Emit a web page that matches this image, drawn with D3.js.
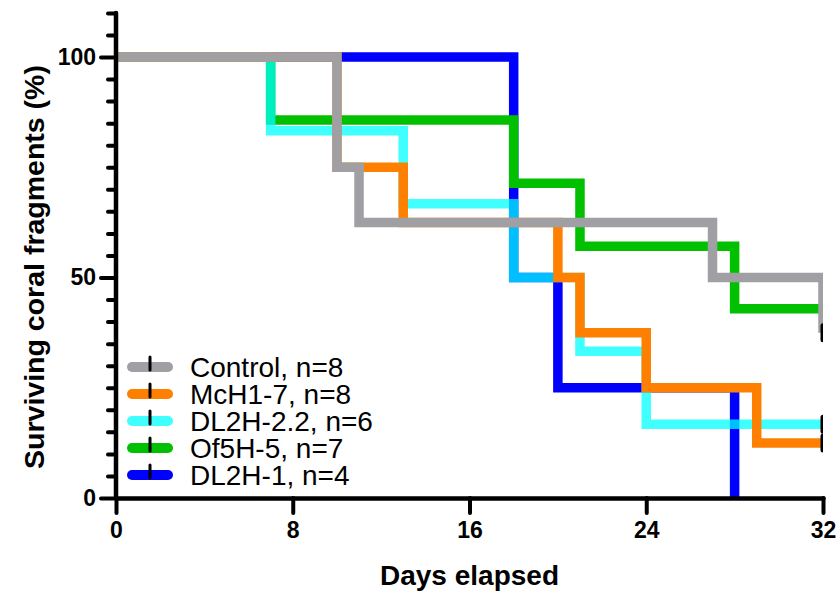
<!DOCTYPE html>
<html>
<head>
<meta charset="utf-8">
<script src="https://cdn.jsdelivr.net/npm/d3@7"></script>
<style>
  body { margin: 0; background: #fff; }
  text { font-family: "Liberation Sans", Arial, sans-serif; }
</style>
</head>
<body>
<div id="chart"></div>
<script>
// survival steps (day of drop, % surviving after it)
var controlDays = [0, 10, 11, 27, 32];
var controlSurv = [100, 75, 62.5, 50, 37.5];
var mchDays = [0, 10, 13, 20, 21, 24, 29];
var mchSurv = [100, 75, 62.5, 50, 37.5, 25, 12.5];
var dl22Days = [0, 7, 13, 18, 21, 24];
var dl22Surv = [100, 83.3, 66.7, 50, 33.3, 16.7];
var of5Days = [0, 7, 18, 21, 28];
var of5Surv = [100, 85.7, 71.4, 57.1, 42.9];
var dl1Days = [0, 18, 20, 28];
var dl1Surv = [100, 50, 25, 0];

var seriesNames = ["Control, n=8", "McH1-7, n=8", "DL2H-2.2, n=6", "Of5H-5, n=7", "DL2H-1, n=4"];
var seriesColors = ["#a0a0a4", "#ff8000", "#00ffff", "#00c000", "#0000ff"];

var xTicks = [0, 8, 16, 24, 32];
var yLabelTicks = [0, 50, 100];

var width = 840, height = 592;
var endDay = 32;

var svg = d3.select("#chart").append("svg")
    .attr("width", width)
    .attr("height", height);

var x = d3.scaleLinear().domain([0, 32]).range([116, 823]);
var y = d3.scaleLinear().domain([0, 100]).range([498, 57]);

var series = [
    {name: seriesNames[0], color: seriesColors[0], days: controlDays, surv: controlSurv, op: 1},
    {name: seriesNames[1], color: seriesColors[1], days: mchDays, surv: mchSurv, op: 1},
    {name: seriesNames[2], color: seriesColors[2], days: dl22Days, surv: dl22Surv, op: 0.75},
    {name: seriesNames[3], color: seriesColors[3], days: of5Days, surv: of5Surv, op: 1},
    {name: seriesNames[4], color: seriesColors[4], days: dl1Days, surv: dl1Surv, op: 1}
];

svg.append("clipPath").attr("id", "plotclip")
    .append("rect")
    .attr("x", x(0))
    .attr("y", 0)
    .attr("width", x(32) - x(0))
    .attr("height", y(0));

var line = d3.line()
    .x(function (d) { return x(d[0]); })
    .y(function (d) { return y(d[1]); })
    .curve(d3.curveStepAfter);

var plot = svg.append("g").attr("clip-path", "url(#plotclip)");

// bottom series first so grey ends up on top
var drawOrder = [4, 3, 2, 1, 0];
drawOrder.forEach(function (k) {
    var s = series[k];
    var pts = s.days.map(function (d, i) { return [d, s.surv[i]]; });
    var last = pts[pts.length - 1];
    if (last[1] > 0 && last[0] < endDay) {
        pts.push([endDay, last[1]]);
    }
    plot.append("path")
        .attr("d", line(pts))
        .attr("fill", "none")
        .attr("stroke", s.color)
        .attr("stroke-opacity", s.op)
        .attr("stroke-width", 9.5)
        .attr("stroke-linejoin", "miter");
    // censor tick at the end of the follow-up
    if (last[1] > 0) {
        plot.append("line")
            .attr("x1", x(endDay)).attr("x2", x(endDay))
            .attr("y1", y(last[1]) - 7).attr("y2", y(last[1]) + 7)
            .attr("stroke", "#000")
            .attr("stroke-width", 5)
            .attr("stroke-linecap", "round");
    }
});

// axes
var xAxis = svg.append("g")
    .attr("transform", "translate(0," + y(0) + ")")
    .call(d3.axisBottom(x).tickValues(xTicks).tickSize(15).tickSizeOuter(0).tickPadding(9));

var yAxis = svg.append("g")
    .attr("transform", "translate(" + x(0) + ",0)")
    .call(d3.axisLeft(y).tickValues(d3.range(0, 111, 5)).tickSize(15).tickSizeOuter(0).tickPadding(5)
        .tickFormat(function (d) { return yLabelTicks.indexOf(d) >= 0 ? d : ""; }));

yAxis.selectAll(".tick line")
    .attr("x2", function (d) { return yLabelTicks.indexOf(d) >= 0 ? -15 : -8; });

// extend y domain line up to 110
yAxis.select(".domain").attr("d", "M0," + y(110) + "V" + y(0));

[xAxis, yAxis].forEach(function (a) {
    a.select(".domain")
        .attr("stroke", "#000")
        .attr("stroke-width", 4.5)
        .attr("stroke-linecap", "round");
    a.selectAll(".tick line")
        .attr("stroke", "#000")
        .attr("stroke-width", 4)
        .attr("stroke-linecap", "round");
    a.selectAll(".tick text")
        .attr("fill", "#000")
        .style("font-size", "23px")
        .style("font-weight", "bold")
        .style("font-family", "'Liberation Sans', Arial, sans-serif");
});

// axis titles
svg.append("text")
    .attr("x", (x(0) + x(32)) / 2)
    .attr("y", 585)
    .attr("text-anchor", "middle")
    .style("font-size", "28px")
    .style("font-weight", "bold")
    .text("Days elapsed");

svg.append("text")
    .attr("transform", "translate(44," + 267 + ") rotate(-90)")
    .attr("text-anchor", "middle")
    .style("font-size", "28.5px")
    .style("font-weight", "bold")
    .text("Surviving coral fragments (%)");

// legend
var legend = svg.append("g");
series.forEach(function (s, i) {
    var cy = 367 + i * 27;
    legend.append("line")
        .attr("x1", 132).attr("x2", 168)
        .attr("y1", cy).attr("y2", cy)
        .attr("stroke", s.color)
        .attr("stroke-opacity", s.op)
        .attr("stroke-width", 10)
        .attr("stroke-linecap", "round");
    legend.append("line")
        .attr("x1", 150).attr("x2", 150)
        .attr("y1", cy - 10).attr("y2", cy + 3)
        .attr("stroke", "#000")
        .attr("stroke-width", 3)
        .attr("stroke-linecap", "round");
    legend.append("text")
        .attr("x", 190)
        .attr("y", cy + 10)
        .style("font-size", "28px")
        .text(s.name);
});
</script>
</body>
</html>
